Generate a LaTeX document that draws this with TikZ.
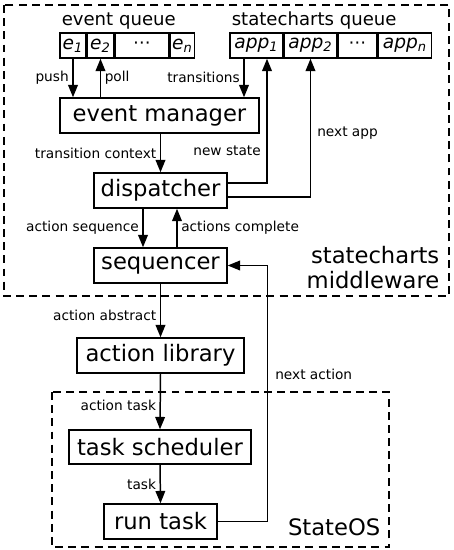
\documentclass[tikz,border=0pt]{standalone}
\usepackage{fontspec}
\setmainfont{DejaVu Sans}
\usepackage{tikz}
\usetikzlibrary{arrows.meta,calc,positioning}

\begin{document}
\begin{tikzpicture}[
  x=0.02cm, y=-0.02cm,
  line width=0.85pt,
  >={Triangle[length=7pt,width=5.5pt]},
  box/.style={draw, minimum height=0.70cm, inner sep=0pt, font=\fontsize{12.9}{15}\selectfont},
  cell/.style={draw, minimum height=0.50cm, inner sep=0pt, font=\fontsize{10.6}{12}\selectfont\itshape},
  lbl/.style={inner sep=2pt, font=\fontsize{7.8}{9}\selectfont},
  qtitle/.style={inner sep=1pt, font=\fontsize{10.3}{12}\selectfont},
  area/.style={dash pattern=on 4.5pt off 3pt, line width=0.7pt},
  arealbl/.style={inner sep=0pt, align=right, font=\fontsize{12.9}{14.2}\selectfont}
]
\useasboundingbox (0,0) rectangle (453,550);

% middleware and StateOS
\draw[area] (4,5) rectangle (449,296);
\draw[area] (52,392) rectangle (389,547);
\node[arealbl, anchor=south east] (mwlbl) at (440,290) {statecharts\\middleware};
\node[arealbl, anchor=base east] (oslbl) at (381,535) {StateOS};

% queues
\node[cell, minimum width=0.52cm] (e1) at (73,45.5) {e\textsubscript{1}};
\node[cell, minimum width=0.52cm, right=0pt of e1] (e2) {e\textsubscript{2}};
\node[cell, minimum width=1.08cm, right=0pt of e2, font=\fontsize{10}{12}\selectfont] (edots) {⋯};
\node[cell, minimum width=0.48cm, right=0pt of edots] (en) {e\textsubscript{n}};
\node[qtitle, anchor=south west] (eqtitle) at (e1.north west) {event queue};

\node[cell, minimum width=1.06cm] (a1) at (256.5,45.5) {app\textsubscript{1}};
\node[cell, minimum width=1.04cm, right=0pt of a1] (a2) {app\textsubscript{2}};
\node[cell, minimum width=0.78cm, right=0pt of a2, font=\fontsize{10}{12}\selectfont] (adots) {⋯};
\node[cell, minimum width=1.06cm, right=0pt of adots] (an) {app\textsubscript{n}};
\node[qtitle, anchor=south west] (sqtitle) at (a1.north west) {statecharts queue};

% blocks
\node[box, minimum width=3.98cm] (em) at (159.5,115.5) {event manager};
\node[box, minimum width=2.66cm] (disp) at (160.5,190.5) {dispatcher};
\node[box, minimum width=2.66cm] (seq) at (160.5,265.5) {sequencer};
\node[box, minimum width=3.34cm] (lib) at (160.5,355.5) {action library};
\node[box, minimum width=3.64cm, minimum height=0.68cm] (sched) at (160,447) {task scheduler};
\node[box, minimum width=2.26cm] (run) at (160.5,521.5) {run task};

% connectors
\coordinate (tr) at (244,58);
\draw[->] (e1.south) -- node[lbl, left] (lpush) {push} (e1 |- em.north);
\draw[->] (e2 |- em.north) -- node[lbl, right] (lpoll) {poll} (e2.south);
\draw[->] (tr) -- node[lbl, left] (ltrans) {transitions} (tr |- em.north);
\draw[->] (em.south -| disp.north) -- node[lbl, left] (lctx) {transition context} (disp.north);
\draw[->] ([yshift=0.15cm]disp.east) -| ($(a1.south)+(10.5,0)$);
\node[lbl, anchor=east] (lnew) at (265,151) {new state};
\draw[->] ([yshift=-0.13cm]disp.east) -| (a2.south);
\node[lbl, anchor=west] (lnext) at (313,133) {next app};
\draw[->] ([xshift=-0.35cm]disp.south) -- node[lbl, left] (lseq) {action sequence} ([xshift=-0.35cm]seq.north);
\draw[->] ([xshift=0.33cm]seq.north) -- node[lbl, right] (ldone) {actions complete} ([xshift=0.33cm]disp.south);
\draw[->] (seq.south) -- node[lbl, left, yshift=-0.09cm] (labs) {action abstract} (lib.north);
\draw[->] (lib.south) -- node[lbl, left, yshift=-0.07cm] (ltask) {action task} (sched.north);
\draw[->] (sched.south) -- node[lbl, left] (lrun) {task} (run.north);
\draw[->] (run.east) -| ($(seq.east)+(40,0)$) -- (seq.east);
\node[lbl, anchor=west] (lnexta) at (271,374) {next action};
\end{tikzpicture}
\end{document}
